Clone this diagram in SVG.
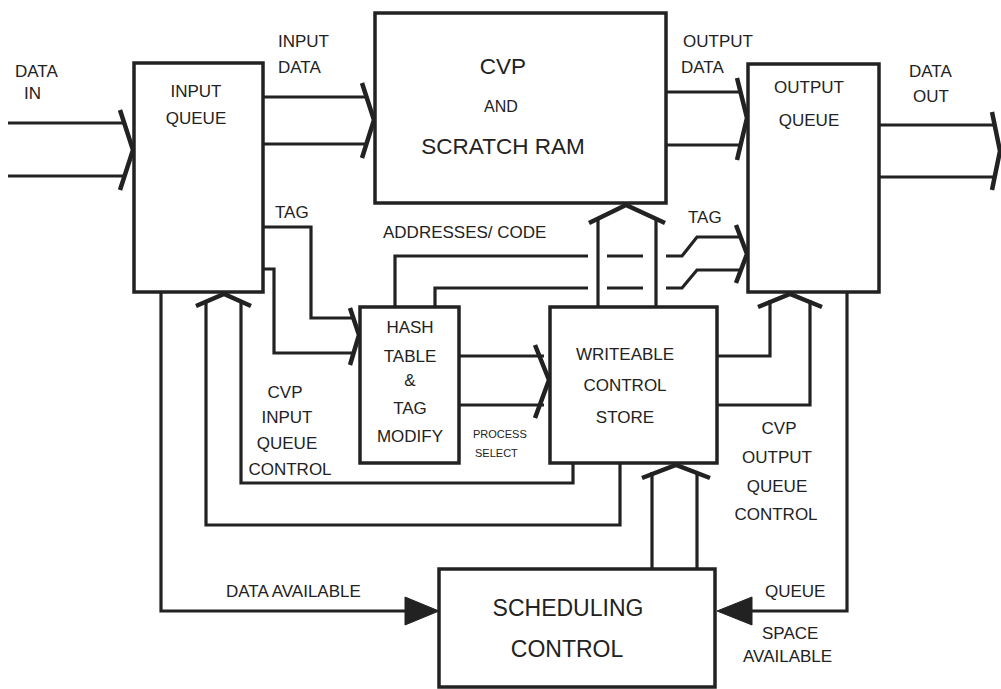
<svg xmlns="http://www.w3.org/2000/svg" width="1001" height="689" viewBox="0 0 1001 689">
<style>
.box{fill:#fff;stroke:#222;stroke-width:3.5}
.ln{fill:none;stroke:#222;stroke-width:3.2;stroke-linejoin:miter}
.hd{fill:none;stroke:#222;stroke-width:4.5;stroke-linejoin:miter;stroke-linecap:butt}
.tri{fill:#222;stroke:#222;stroke-width:1}
text{font-family:"Liberation Sans",Arial,sans-serif;fill:#222;font-size:17px}
.c{text-anchor:middle}
.big{font-size:22.5px}
.and{font-size:16px}
.sch{font-size:23px}
.sm{font-size:11px}
</style>
<rect width="1001" height="689" fill="#fff"/>
<g id="connectors">
  <path class="ln" d="M8 123H124M8 176H124"/>
  <path class="hd" d="M120 110L133 150L120 190"/>
  <path class="ln" d="M263 97H368M263 144H368"/>
  <path class="hd" d="M362 83L374 120L362 158"/>
  <path class="ln" d="M666 92H742M666 145H742"/>
  <path class="hd" d="M737 78L747 118L737 160"/>
  <path class="ln" d="M879 125H996M879 177H996"/>
  <path class="hd" d="M992 112L1000 151L992 190"/>
  <path class="ln" d="M263 227H311V318H355M263 269H274V353H355"/>
  <path class="hd" d="M350 308L359 335L350 365"/>
  <path class="ln" d="M459 356H544M459 405H544"/>
  <path class="hd" d="M535 345L549 380L535 418"/>
  <path class="ln" d="M395 307V256H588M607 256H643M666 256H682L697 237H742"/>
  <path class="ln" d="M435 307V288H588M607 288H643M666 288H682L697 270H742"/>
  <path class="hd" d="M736 225L747 254L736 283"/>
  <path class="ln" d="M598 307V219M656 307V219"/>
  <path class="hd" d="M589 223L626 205L665 223"/>
  <path class="ln" d="M717 356H770V300M717 405H810V300"/>
  <path class="hd" d="M758 307L790 294L822 307"/>
  <path class="ln" d="M573 463V483H241V300M620 463V525H206V300"/>
  <path class="hd" d="M196 306L224 294L251 306"/>
  <path class="ln" d="M652 569V472M697 569V472"/>
  <path class="hd" d="M642 478L676 465L710 478"/>
  <path class="ln" d="M161 292V611H406"/>
  <polygon class="tri" points="405,597 439,611 405,625"/>
  <path class="ln" d="M847 292V611H750"/>
  <polygon class="tri" points="752,597 717,611 752,625"/>
</g>
<g id="input-queue">
  <rect class="box" x="134" y="63" width="129" height="229"/>
  <text class="c" x="196" y="97">INPUT</text>
  <text class="c" x="196" y="124">QUEUE</text>
</g>
<g id="cvp">
  <rect class="box" x="375" y="13" width="291" height="190"/>
  <text class="c big" x="503" y="74">CVP</text>
  <text class="c and" x="501" y="112">AND</text>
  <text class="c big" x="503" y="154">SCRATCH RAM</text>
</g>
<g id="output-queue">
  <rect class="box" x="748" y="64" width="131" height="228"/>
  <text class="c" x="809" y="93">OUTPUT</text>
  <text class="c" x="809" y="126">QUEUE</text>
</g>
<g id="hash-table">
  <rect class="box" x="360" y="307" width="99" height="156"/>
  <text class="c" x="410" y="333">HASH</text>
  <text class="c" x="410" y="362">TABLE</text>
  <text class="c" x="410" y="386">&amp;</text>
  <text class="c" x="410" y="414">TAG</text>
  <text class="c" x="410" y="442">MODIFY</text>
</g>
<g id="wcs">
  <rect class="box" x="550" y="307" width="167" height="156"/>
  <text class="c" x="625" y="360">WRITEABLE</text>
  <text class="c" x="625" y="391">CONTROL</text>
  <text class="c" x="625" y="423">STORE</text>
</g>
<g id="scheduling">
  <rect class="box" x="439" y="569" width="276" height="118"/>
  <text class="c sch" x="568" y="616">SCHEDULING</text>
  <text class="c sch" x="567" y="657">CONTROL</text>
</g>
<g id="labels">
  <text x="15" y="77">DATA</text>
  <text x="24" y="99">IN</text>
  <text x="278" y="47">INPUT</text>
  <text x="278" y="73">DATA</text>
  <text x="683" y="47">OUTPUT</text>
  <text x="681" y="73">DATA</text>
  <text x="909" y="77">DATA</text>
  <text x="913" y="102">OUT</text>
  <text x="275" y="218">TAG</text>
  <text x="383" y="238">ADDRESSES/ CODE</text>
  <text x="688" y="223">TAG</text>
  <text class="sm" x="473" y="438">PROCESS</text>
  <text class="sm" x="475" y="457">SELECT</text>
  <text class="c" x="285" y="398">CVP</text>
  <text class="c" x="287" y="423">INPUT</text>
  <text class="c" x="287" y="449">QUEUE</text>
  <text class="c" x="290" y="475">CONTROL</text>
  <text class="c" x="779" y="434">CVP</text>
  <text class="c" x="777" y="463">OUTPUT</text>
  <text class="c" x="777" y="492">QUEUE</text>
  <text class="c" x="776" y="520">CONTROL</text>
  <text x="226" y="597">DATA AVAILABLE</text>
  <text x="765" y="597">QUEUE</text>
  <text x="762" y="639">SPACE</text>
  <text x="743" y="662">AVAILABLE</text>
</g>
</svg>
